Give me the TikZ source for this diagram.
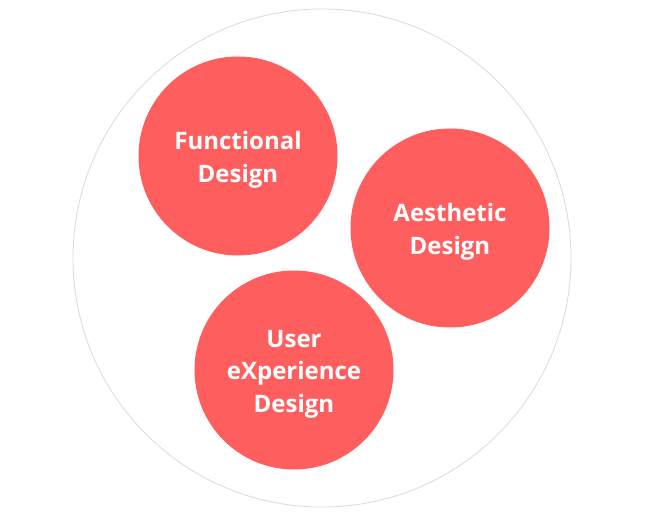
\documentclass[tikz,border=0pt]{standalone}
\usepackage{fontspec}
\setmainfont{Open Sans}
\begin{document}
\begin{tikzpicture}[x=1pt,y=-1pt,
  blob/.style={circle,fill=red5E,minimum size=199pt,inner sep=0pt},
  blobtext/.style={text=white,align=center,inner sep=0pt,yshift=-4pt,font=\bfseries\fontsize{24}{32.5}\selectfont}]
\definecolor{red5E}{HTML}{FF5E5E}
\definecolor{ring}{HTML}{DADADA}
\useasboundingbox (0,0) rectangle (645,518);
\node[circle,draw=ring,line width=0.8pt,minimum size=498pt,inner sep=0pt] (outer) at (322,258) {};
\node[blob] (func) at (238,156) {};
\node[blob] (aes) at (450,228) {};
\node[blob] (ux) at (294,370) {};
\node[blobtext] (funct) at (func.center) {Functional\\Design};
\node[blobtext] (aest) at (aes.center) {Aesthetic\\Design};
\node[blobtext] (uxt) at (ux.center) {User\\eXperience\\Design};
\end{tikzpicture}
\end{document}
